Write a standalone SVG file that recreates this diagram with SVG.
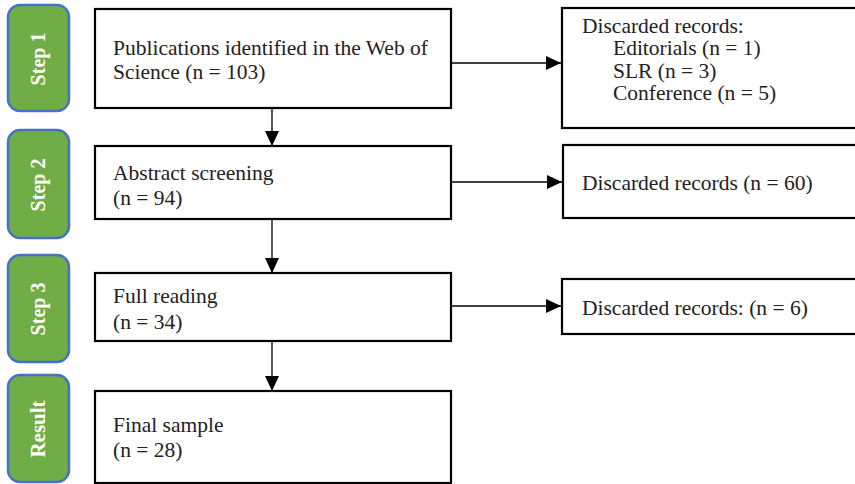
<svg xmlns="http://www.w3.org/2000/svg" width="855" height="484" viewBox="0 0 855 484">
<style>
.pill{fill:#70AD47;stroke:#4472C4;stroke-width:2.5}
.lbl{font-family:"Liberation Serif","Times New Roman",serif;font-size:20px;font-weight:bold;fill:#fff;text-anchor:middle}
.big{font-size:21px}
.box{fill:#fff;stroke:#000;stroke-width:2.2}
.t{font-family:"Liberation Serif","Times New Roman",serif;font-size:21.5px;fill:#222}
.c{stroke:#000;stroke-width:1.3;fill:none;marker-end:url(#ah)}
</style>
<defs>
<marker id="ah" markerUnits="userSpaceOnUse" markerWidth="15" markerHeight="14" refX="15" refY="7" orient="auto">
<path d="M0,0 L15,7 L0,14 Z" fill="#000"/>
</marker>
</defs>
<rect width="855" height="484" fill="#fff"/>
<g id="step1"><rect class="pill" x="8" y="5" width="61" height="106" rx="12"/><text class="lbl" transform="translate(45,59) rotate(-90)">Step 1</text></g>
<g id="step2"><rect class="pill" x="8" y="130" width="61" height="108" rx="12"/><text class="lbl" transform="translate(45,185) rotate(-90)">Step 2</text></g>
<g id="step3"><rect class="pill" x="8" y="255" width="61" height="107" rx="12"/><text class="lbl" transform="translate(45,309) rotate(-90)">Step 3</text></g>
<g id="result"><rect class="pill" x="8" y="375" width="61" height="107" rx="12"/><text class="lbl big" transform="translate(45,429) rotate(-90)">Result</text></g>

<g id="b1"><rect class="box" x="95" y="9" width="356" height="99"/><text class="t" x="113" y="55">Publications identified in the Web of</text><text class="t" x="113" y="79">Science (n = 103)</text></g>
<g id="b2"><rect class="box" x="95" y="146" width="356" height="73"/><text class="t" x="113" y="180">Abstract screening</text><text class="t" x="113" y="205">(n = 94)</text></g>
<g id="b3"><rect class="box" x="95" y="273" width="356" height="68"/><text class="t" x="113" y="303">Full reading</text><text class="t" x="113" y="329">(n = 34)</text></g>
<g id="b4"><rect class="box" x="95" y="391" width="356" height="92"/><text class="t" x="113" y="432">Final sample</text><text class="t" x="113" y="457">(n = 28)</text></g>

<g id="r1"><rect class="box" x="562" y="8" width="300" height="120"/><text class="t" x="582" y="33">Discarded records:</text><text class="t" x="613" y="55">Editorials (n = 1)</text><text class="t" x="613" y="78">SLR (n = 3)</text><text class="t" x="613" y="100">Conference (n = 5)</text></g>
<g id="r2"><rect class="box" x="563" y="145" width="300" height="73"/><text class="t" x="582" y="190">Discarded records (n = 60)</text></g>
<g id="r3"><rect class="box" x="562" y="279" width="300" height="55"/><text class="t" x="582" y="315">Discarded records: (n = 6)</text></g>

<g id="connectors">
<line class="c" x1="272" y1="108" x2="272" y2="146"/>
<line class="c" x1="272" y1="219" x2="272" y2="273"/>
<line class="c" x1="272" y1="341" x2="272" y2="391"/>
<line class="c" x1="451" y1="63" x2="561" y2="63"/>
<line class="c" x1="451" y1="182" x2="562" y2="182"/>
<line class="c" x1="451" y1="306" x2="561" y2="306"/>
</g>
</svg>
